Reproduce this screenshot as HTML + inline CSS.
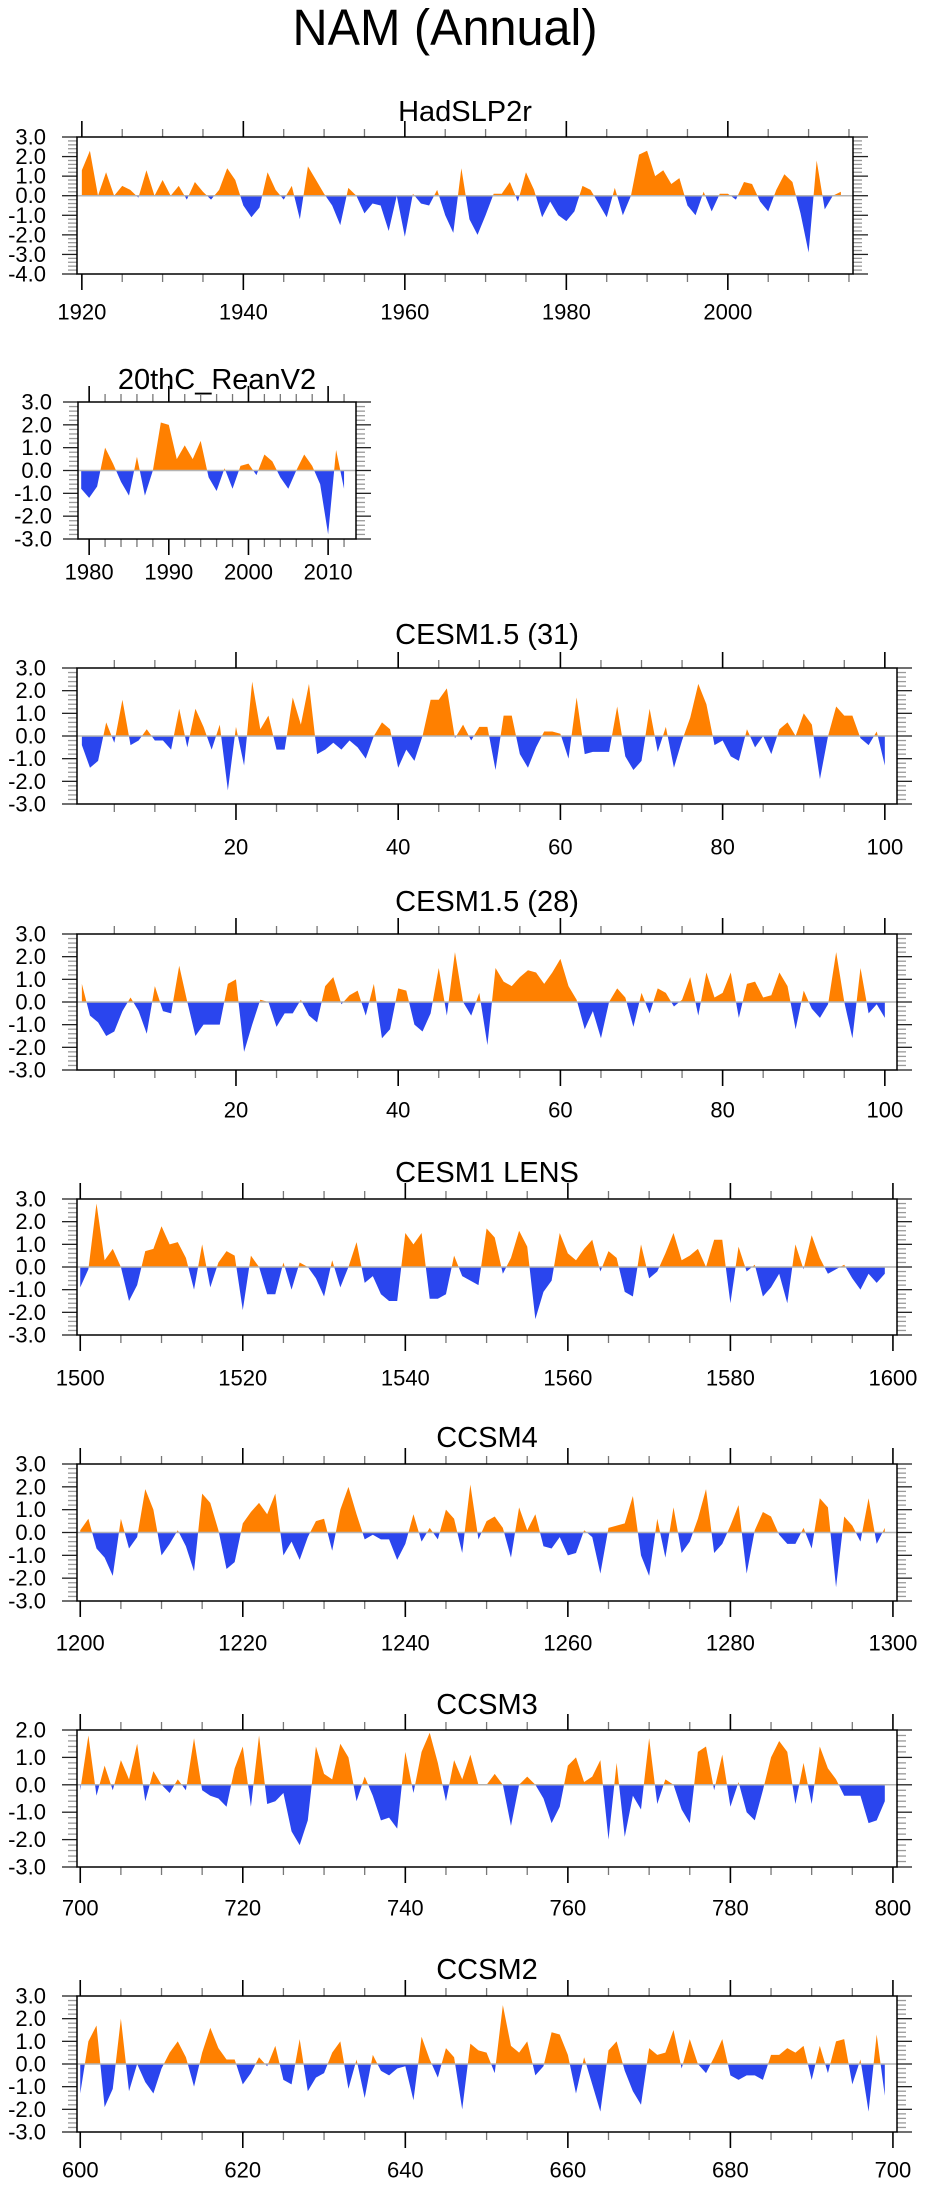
<!DOCTYPE html>
<html><head><meta charset="utf-8"><title>NAM (Annual)</title>
<style>
html,body{margin:0;padding:0;background:#fff;}
svg{display:block;font-family:"Liberation Sans",Arial,sans-serif;}
</style></head>
<body>
<svg id="chart" xmlns="http://www.w3.org/2000/svg" width="925" height="2190" viewBox="0 0 925 2190">
<text x="445" y="45" font-size="51" text-anchor="middle" textLength="305" lengthAdjust="spacingAndGlyphs">NAM (Annual)</text>
</svg>
<script>
// ---- data ----
const hadStart = 1920;
const hadValues = [1.3,2.3,0.0,1.2,0.0,0.5,0.3,-0.1,1.3,0.0,0.8,0.0,0.5,-0.2,0.7,0.2,-0.2,0.3,1.4,0.8,
-0.5,-1.1,-0.6,1.2,0.3,-0.2,0.5,-1.2,1.5,0.8,0.1,-0.5,-1.5,0.4,0.0,-0.9,-0.4,-0.5,-1.8,0.0,
-2.1,0.1,-0.4,-0.5,0.3,-1.0,-1.9,1.4,-1.2,-2.0,-1.0,0.1,0.1,0.7,-0.3,1.2,0.3,-1.1,-0.3,-1.0,
-1.3,-0.8,0.5,0.3,-0.4,-1.1,0.4,-1.0,0.0,2.1,2.3,1.0,1.3,0.6,0.9,-0.5,-1.0,0.2,-0.8,0.1,
0.1,-0.2,0.7,0.6,-0.3,-0.8,0.3,1.1,0.7,-0.9,-2.9,1.8,-0.7,0.0,0.2];
const hadXTicks = [1920,1940,1960,1980,2000];
const hadYTicks = [3,2,1,0,-1,-2,-3,-4];

const reanStart = 1979;
const reanValues = [-0.8,-1.2,-0.7,1.0,0.3,-0.5,-1.1,0.6,-1.1,0.0,2.1,2.0,0.5,1.1,0.5,1.3,-0.3,-0.9,0.1,-0.8,
0.2,0.3,-0.2,0.7,0.4,-0.3,-0.8,0.0,0.7,0.2,-0.6,-2.8,0.9,-0.8];
const reanXTicks = [1980,1990,2000,2010];
const reanYTicks = [3,2,1,0,-1,-2,-3];

const c31Start = 1;
const c31Values = [-0.4,-1.4,-1.1,0.6,-0.3,1.6,-0.4,-0.2,0.3,-0.2,-0.2,-0.6,1.2,-0.5,1.2,0.4,-0.6,0.5,-2.4,0.4,
-1.3,2.4,0.3,0.9,-0.6,-0.6,1.7,0.5,2.3,-0.8,-0.6,-0.3,-0.6,-0.2,-0.5,-1.0,0.0,0.6,0.3,-1.4,
-0.6,-1.1,0.0,1.6,1.6,2.1,-0.1,0.5,-0.2,0.4,0.4,-1.5,0.9,0.9,-0.8,-1.4,-0.5,0.2,0.2,0.1,
-1.0,1.7,-0.8,-0.7,-0.7,-0.7,1.3,-0.9,-1.5,-1.1,1.2,-0.7,0.4,-1.4,-0.2,0.8,2.3,1.4,-0.4,-0.2,
-0.9,-1.1,0.3,-0.5,0.0,-0.8,0.3,0.6,0.0,1.0,0.5,-1.9,0.0,1.3,0.9,0.9,-0.1,-0.4,0.2,-1.3];
const c28Start = 1;
const c28Values = [0.8,-0.6,-0.9,-1.5,-1.3,-0.4,0.2,-0.4,-1.4,0.7,-0.4,-0.5,1.6,0.0,-1.5,-1.0,-1.0,-1.0,0.8,1.0,
-2.2,-1.0,0.1,0.0,-1.1,-0.5,-0.5,0.1,-0.6,-0.9,0.7,1.1,-0.1,0.3,0.5,-0.6,0.8,-1.6,-1.2,0.6,
0.5,-1.0,-1.3,-0.5,1.5,-0.6,2.2,0.0,-0.6,0.4,-1.9,1.5,0.9,0.7,1.1,1.4,1.3,0.8,1.3,1.9,
0.7,0.1,-1.2,-0.4,-1.6,0.0,0.6,0.2,-1.1,0.4,-0.5,0.6,0.4,-0.2,0.1,1.1,-0.6,1.3,0.2,0.4,
1.3,-0.7,0.8,0.9,0.2,0.3,1.3,0.7,-1.2,0.5,-0.3,-0.7,-0.1,2.2,0.0,-1.6,1.5,-0.5,-0.1,-0.7];
const cesmXTicks = [20,40,60,80,100];

const lensStart = 1500;
const lensValues = [-0.9,-0.1,2.8,0.3,0.8,0.0,-1.5,-0.8,0.7,0.8,1.8,1.0,1.1,0.4,-1.0,1.0,-0.9,0.2,0.7,0.5,
-1.9,0.5,0.0,-1.2,-1.2,0.2,-1.0,0.2,0.0,-0.5,-1.3,0.3,-0.9,0.0,1.1,-0.7,-0.4,-1.2,-1.5,-1.5,
1.5,1.0,1.5,-1.4,-1.4,-1.2,0.5,-0.4,-0.6,-0.8,1.7,1.3,-0.3,0.4,1.6,0.9,-2.3,-1.1,-0.6,1.5,
0.6,0.3,0.8,1.2,-0.2,0.7,0.4,-1.1,-1.3,1.0,-0.5,-0.2,0.6,1.5,0.3,0.5,0.8,0.0,1.2,1.2,
-1.6,0.9,-0.2,0.1,-1.3,-0.9,-0.3,-1.6,1.0,-0.1,1.4,0.4,-0.3,-0.1,0.1,-0.5,-1.0,-0.3,-0.7,-0.3];
const lensXTicks = [1500,1520,1540,1560,1580,1600];

const ccsm4Start = 1200;
const ccsm4Values = [0.1,0.6,-0.7,-1.1,-1.9,0.6,-0.7,-0.2,1.9,1.0,-1.0,-0.5,0.1,-0.6,-1.7,1.7,1.3,0.1,-1.6,-1.3,
0.4,0.9,1.3,0.8,1.7,-1.0,-0.4,-1.2,-0.2,0.5,0.6,-0.8,1.0,2.0,0.8,-0.3,-0.1,-0.3,-0.3,-1.2,
-0.5,0.8,-0.4,0.2,-0.3,1.0,0.6,-0.9,2.1,-0.3,0.5,0.7,0.2,-1.1,1.1,0.1,0.8,-0.6,-0.7,-0.2,
-1.0,-0.9,0.1,-0.2,-1.8,0.2,0.3,0.4,1.6,-1.0,-1.9,0.6,-1.1,1.1,-0.9,-0.4,0.6,1.9,-0.9,-0.5,
0.3,1.2,-1.8,0.1,0.9,0.7,-0.1,-0.5,-0.5,0.2,-0.7,1.5,1.1,-2.4,0.7,0.3,-0.4,1.5,-0.5,0.2];
const ccsm4XTicks = [1200,1220,1240,1260,1280,1300];

const ccsm3Start = 700;
const ccsm3Values = [-0.2,1.8,-0.4,0.7,-0.2,0.9,0.2,1.5,-0.6,0.5,0.0,-0.3,0.2,-0.2,1.7,-0.2,-0.4,-0.5,-0.8,0.6,
1.4,-0.8,1.8,-0.7,-0.6,-0.3,-1.7,-2.2,-1.3,1.4,0.4,0.2,1.5,1.0,-0.6,0.3,-0.4,-1.3,-1.2,-1.6,
1.2,-0.3,1.2,1.9,0.8,-0.6,0.9,0.2,1.1,0.0,0.0,0.4,0.0,-1.5,0.0,0.3,0.0,-0.5,-1.4,-0.8,
0.7,1.0,0.1,0.3,0.9,-2.0,0.8,-1.9,-0.4,-0.9,1.7,-0.7,0.2,0.0,-0.9,-1.4,1.2,1.4,-0.2,1.1,
-0.8,0.1,-1.0,-1.3,-0.2,1.0,1.6,1.2,-0.7,0.8,-0.7,1.4,0.6,0.2,-0.4,-0.4,-0.4,-1.4,-1.3,-0.6];
const ccsm3XTicks = [700,720,740,760,780,800];
const ccsm3YTicks = [2,1,0,-1,-2,-3];

const ccsm2Start = 600;
const ccsm2Values = [-1.3,1.0,1.7,-1.9,-1.1,2.0,-1.2,0.0,-0.8,-1.3,-0.2,0.5,1.0,0.3,-1.0,0.5,1.6,0.7,0.2,0.2,
-0.9,-0.4,0.3,-0.1,0.8,-0.7,-0.9,1.1,-1.2,-0.6,-0.4,0.5,1.0,-1.1,0.2,-1.5,0.4,-0.3,-0.5,-0.2,
-0.1,-1.6,1.2,0.2,-0.6,0.7,0.3,-2.0,0.9,0.6,0.5,-0.4,2.6,0.8,0.5,1.0,-0.5,-0.1,1.4,1.3,
0.4,-1.3,0.3,-0.9,-2.1,0.6,1.0,-0.3,-1.2,-1.8,0.7,0.4,0.5,1.5,-0.2,1.1,0.0,-0.4,0.3,1.1,
-0.5,-0.7,-0.5,-0.5,-0.7,0.4,0.4,0.7,0.5,0.8,-0.7,0.8,-0.4,1.0,1.1,-0.9,0.2,-2.1,1.3,-1.4];
const ccsm2XTicks = [600,620,640,660,680,700];
const stdYTicks = [3,2,1,0,-1,-2,-3];

// ---- layout ----
const svg = document.getElementById('chart');
const NS = 'http://www.w3.org/2000/svg';
function mk(tag, attrs, parent){
  const e = document.createElementNS(NS, tag);
  for (const k in attrs) e.setAttribute(k, attrs[k]);
  (parent || svg).appendChild(e);
  return e;
}

function drawPanel(o){
  const g = mk('g', {});
  
  
  const xs = v => o.L + (v - o.xmin) / (o.xmax - o.xmin) * (o.R - o.L);
  const ys = v => o.T + (o.ymax - v) / (o.ymax - o.ymin) * (o.B - o.T);
  const y0 = ys(0);
  const t = mk('text', {x:(o.L+o.R)/2, y:o.titleY, 'font-size':29, 'text-anchor':'middle', 'dominant-baseline':'central'}, g);
  t.textContent = o.title;
  
  
  const years = o.values.map((v,i) => o.start + i);
  let pts = xs(years[0]).toFixed(2) + ',' + y0.toFixed(2) + ' ';
  o.values.forEach((v,i) => { pts += xs(years[i]).toFixed(2) + ',' + ys(v).toFixed(2) + ' '; });
  pts += xs(years[years.length-1]).toFixed(2) + ',' + y0.toFixed(2);
  const cidA = o.name + '-clip-pos', cidB = o.name + '-clip-neg';
  const defs = mk('defs', {}, g);
  const c1 = mk('clipPath', {id:cidA}, defs);
  mk('rect', {x:o.L, y:o.T, width:o.R-o.L, height:y0-o.T}, c1);
  const c2 = mk('clipPath', {id:cidB}, defs);
  mk('rect', {x:o.L, y:y0, width:o.R-o.L, height:o.B-y0}, c2);
  const pa = mk('polygon', {points:pts, fill:'#ff8000', 'clip-path':'url(#'+cidA+')'}, g);
  
  
  const pb = mk('polygon', {points:pts, fill:'#2a45ee', 'clip-path':'url(#'+cidB+')'}, g);
  
  
  const zl = mk('line', {x1:o.L, x2:o.R, y1:y0, y2:y0, stroke:'#b4b4b4', 'stroke-width':1.5}, g);
  
  
  for (let v = Math.ceil(o.xmin/o.xminor)*o.xminor; v <= o.xmax; v += o.xminor){
    const major = o.xticks.indexOf(v) >= 0;
    const len = major ? 16 : 8;
    const col = major ? '#000' : '#777';
    const x = xs(v);
    mk('line', {x1:x, x2:x, y1:o.T, y2:o.T-len, stroke:col, 'stroke-width':major?1.6:1.3}, g);
    mk('line', {x1:x, x2:x, y1:o.B, y2:o.B+len, stroke:col, 'stroke-width':major?1.6:1.3}, g);
  }
  o.xticks.forEach(v => {
    const tl = mk('text', {x:xs(v), y:o.B+o.labDy, 'font-size':22, 'text-anchor':'middle', 'dominant-baseline':'central'}, g);
    tl.textContent = String(v);
    
    
  });
  for (let k = Math.round(o.ymin*5); k <= Math.round(o.ymax*5); k++){
    const major = k % 5 === 0;
    const y = ys(k/5);
    const len = major ? 15 : 9;
    const col = major ? '#222' : '#999';
    mk('line', {x1:o.L, x2:o.L-len, y1:y, y2:y, stroke:col, 'stroke-width':1.3}, g);
    mk('line', {x1:o.R, x2:o.R+len, y1:y, y2:y, stroke:col, 'stroke-width':1.3}, g);
  }
  o.yticks.forEach(v => {
    const tl = mk('text', {x:o.L-o.yLabGap, y:ys(v), 'font-size':22, 'text-anchor':'end', 'dominant-baseline':'central'}, g);
    tl.textContent = v.toFixed(1);
    
    
  });
  const box = mk('rect', {x:o.L, y:o.T, width:o.R-o.L, height:o.B-o.T, fill:'none', stroke:'#000', 'stroke-width':1.5}, g);
  
  
}

drawPanel({name:'hadslp2r', title:'HadSLP2r', values:hadValues, start:hadStart, xticks:hadXTicks, yticks:hadYTicks,
  L:77, R:853, T:137, B:274, xmin:1919.4, xmax:2015.5, ymin:-4, ymax:3, xminor:5, titleY:112, labDy:38, yLabGap:31});
drawPanel({name:'20thc-reanv2', title:'20thC_ReanV2', values:reanValues, start:reanStart, xticks:reanXTicks, yticks:reanYTicks,
  L:78, R:356, T:402, B:539, xmin:1978.6, xmax:2013.5, ymin:-3, ymax:3, xminor:2, titleY:380, labDy:33, yLabGap:26});
drawPanel({name:'cesm15-31', title:'CESM1.5 (31)', values:c31Values, start:c31Start, xticks:cesmXTicks, yticks:stdYTicks,
  L:77, R:897, T:668, B:804, xmin:0.4, xmax:101.5, ymin:-3, ymax:3, xminor:5, titleY:635, labDy:43, yLabGap:31});
drawPanel({name:'cesm15-28', title:'CESM1.5 (28)', values:c28Values, start:c28Start, xticks:cesmXTicks, yticks:stdYTicks,
  L:77, R:897, T:934, B:1070, xmin:0.4, xmax:101.5, ymin:-3, ymax:3, xminor:5, titleY:902, labDy:40, yLabGap:31});
drawPanel({name:'cesm1-lens', title:'CESM1 LENS', values:lensValues, start:lensStart, xticks:lensXTicks, yticks:stdYTicks,
  L:77, R:897, T:1199, B:1335, xmin:1499.6, xmax:1600.5, ymin:-3, ymax:3, xminor:5, titleY:1173, labDy:43, yLabGap:31});
drawPanel({name:'ccsm4', title:'CCSM4', values:ccsm4Values, start:ccsm4Start, xticks:ccsm4XTicks, yticks:stdYTicks,
  L:77, R:897, T:1464, B:1601, xmin:1199.6, xmax:1300.5, ymin:-3, ymax:3, xminor:5, titleY:1438, labDy:42, yLabGap:31});
drawPanel({name:'ccsm3', title:'CCSM3', values:ccsm3Values, start:ccsm3Start, xticks:ccsm3XTicks, yticks:ccsm3YTicks,
  L:77, R:897, T:1730, B:1867, xmin:699.6, xmax:800.5, ymin:-3, ymax:2, xminor:5, titleY:1705, labDy:41, yLabGap:31});
drawPanel({name:'ccsm2', title:'CCSM2', values:ccsm2Values, start:ccsm2Start, xticks:ccsm2XTicks, yticks:stdYTicks,
  L:77, R:897, T:1996, B:2132, xmin:599.6, xmax:700.5, ymin:-3, ymax:3, xminor:5, titleY:1970, labDy:38, yLabGap:31});
</script>
</body></html>
